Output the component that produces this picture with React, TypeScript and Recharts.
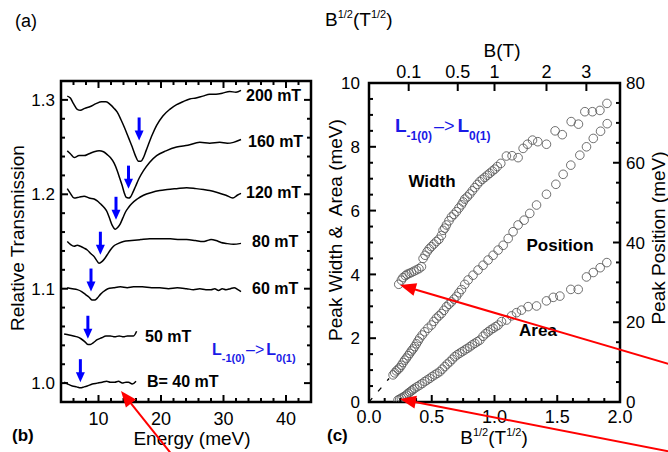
import React from 'react';
import { ComposedChart, Line, Scatter, XAxis, YAxis, ReferenceArea } from 'recharts';

const FONT = '"Liberation Sans", Arial, Helvetica, sans-serif';

// ---- panel (b): spectra, [energy (meV), relative transmission]
const curve200 = [[5.0,1.304],[5.5,1.302],[6.0,1.296],[6.6,1.290],[7.1,1.289],[7.8,1.291],[8.7,1.293],[9.6,1.296],[10.5,1.298],[11.2,1.298],[11.9,1.295],[12.5,1.291],[13.0,1.287],[13.6,1.279],[14.2,1.270],[14.8,1.260],[15.4,1.250],[15.9,1.241],[16.4,1.235],[16.8,1.235],[17.2,1.239],[17.6,1.246],[18.0,1.253],[18.6,1.263],[19.3,1.273],[20.3,1.283],[21.4,1.290],[22.5,1.295],[23.5,1.298],[24.6,1.301],[25.6,1.302],[26.7,1.304],[27.8,1.306],[28.8,1.306],[29.8,1.307],[31.0,1.309],[32.0,1.308],[32.8,1.310]];
const curve160 = [[5.0,1.246],[5.5,1.243],[6.1,1.239],[6.9,1.241],[7.7,1.241],[8.5,1.243],[9.3,1.245],[10.1,1.246],[10.8,1.245],[11.4,1.242],[11.9,1.239],[12.5,1.233],[13.0,1.225],[13.4,1.217],[13.8,1.209],[14.1,1.202],[14.4,1.197],[14.8,1.196],[15.1,1.197],[15.5,1.202],[15.9,1.208],[16.5,1.217],[17.2,1.225],[18.2,1.234],[19.3,1.241],[20.8,1.246],[22.5,1.250],[24.3,1.252],[26.2,1.255],[27.8,1.254],[29.4,1.255],[30.6,1.254],[31.6,1.255],[32.8,1.258]];
const curve120 = [[5.0,1.206],[5.5,1.201],[6.1,1.196],[6.9,1.197],[7.7,1.198],[8.5,1.196],[9.3,1.195],[9.8,1.193],[10.3,1.190],[10.9,1.186],[11.4,1.181],[11.8,1.174],[12.2,1.167],[12.7,1.163],[13.1,1.165],[13.5,1.169],[13.9,1.175],[14.3,1.181],[14.8,1.186],[15.3,1.190],[16.2,1.195],[17.2,1.199],[18.5,1.202],[19.8,1.204],[21.0,1.205],[22.5,1.206],[24.1,1.207],[25.6,1.206],[26.8,1.205],[27.8,1.204],[29.0,1.202],[30.4,1.199],[31.5,1.196],[32.2,1.199],[32.8,1.201]];
const curve80 = [[5.0,1.150],[5.5,1.147],[6.1,1.145],[6.6,1.146],[7.1,1.145],[7.7,1.143],[8.2,1.141],[8.8,1.137],[9.3,1.134],[9.7,1.130],[10.1,1.127],[10.6,1.129],[11.0,1.132],[11.4,1.136],[11.9,1.141],[12.4,1.145],[13.2,1.148],[14.0,1.150],[15.3,1.151],[16.7,1.152],[18.2,1.153],[19.8,1.153],[21.5,1.153],[23.0,1.152],[24.1,1.152],[25.5,1.151],[26.7,1.150],[27.4,1.151],[28.0,1.152],[28.8,1.151],[29.6,1.149],[30.4,1.148],[31.6,1.147],[32.8,1.148]];
const curve60 = [[5.0,1.101],[5.8,1.100],[6.6,1.099],[7.3,1.097],[7.9,1.094],[8.5,1.091],[9.0,1.088],[9.4,1.088],[9.8,1.090],[10.3,1.094],[10.8,1.097],[11.5,1.100],[12.4,1.101],[13.5,1.102],[14.6,1.101],[15.6,1.102],[17.0,1.102],[18.5,1.101],[19.8,1.101],[21.2,1.100],[22.6,1.101],[24.1,1.100],[25.2,1.099],[26.2,1.100],[27.2,1.099],[28.0,1.099],[28.6,1.100],[29.2,1.098],[29.8,1.100],[30.4,1.099],[31.1,1.100],[31.7,1.101],[32.3,1.099],[32.8,1.097]];
const curve50 = [[4.5,1.052],[5.3,1.051],[6.0,1.050],[6.6,1.049],[7.2,1.047],[7.8,1.044],[8.3,1.041],[8.7,1.041],[9.2,1.043],[9.8,1.046],[10.5,1.048],[11.2,1.050],[11.9,1.050],[12.6,1.049],[13.3,1.050],[14.0,1.049],[14.6,1.050],[15.2,1.050],[15.6,1.050],[16.1,1.055]];
const curve40 = [[4.5,1.001],[5.1,0.999],[5.8,0.997],[6.5,0.996],[7.1,0.995],[7.7,0.996],[8.2,0.997],[9.0,0.999],[9.8,1.000],[10.6,1.001],[11.3,1.002],[11.9,1.001],[12.6,1.001],[13.2,1.002],[13.8,1.000],[14.4,1.001],[14.8,1.001],[15.4,0.999],[16.0,1.002]];

const fieldLabels = ['200 mT', '160 mT', '120 mT', '80 mT', '60 mT', '50 mT', 'B= 40 mT'];
const arrowEnergy = [16.5, 14.8, 12.8, 10.3, 8.8, 8.3, 7.1];
const arrowTip = [1.257, 1.206, 1.173, 1.136, 1.097, 1.047, 1.001];

const bTicksX = [4, 6, 8, 10, 12, 14, 16, 18, 20, 22, 24, 26, 28, 30, 32, 34, 36, 38, 40, 42, 44];
const bTicksY = [0.98, 1.0, 1.02, 1.04, 1.06, 1.08, 1.1, 1.12, 1.14, 1.16, 1.18, 1.2, 1.22, 1.24, 1.26, 1.28, 1.3, 1.32];

// ---- panel (c): [B^1/2 (T^1/2), value]
const widthPts = [[0.237,3.69],[0.258,3.82],[0.271,3.90],[0.290,3.96],[0.303,4.00],[0.320,4.03],[0.338,4.06],[0.358,4.10],[0.378,4.14],[0.398,4.18],[0.418,4.24],[0.431,4.50],[0.447,4.60],[0.463,4.71],[0.480,4.80],[0.497,4.87],[0.517,4.95],[0.537,5.03],[0.557,5.10],[0.577,5.22],[0.590,5.38],[0.604,5.45],[0.617,5.55],[0.637,5.68],[0.657,5.80],[0.677,5.88],[0.697,5.97],[0.717,6.08],[0.737,6.18],[0.750,6.27],[0.763,6.36],[0.783,6.43],[0.803,6.52],[0.823,6.62],[0.843,6.72],[0.863,6.82],[0.883,6.91],[0.903,6.98],[0.923,7.04],[0.943,7.11],[0.962,7.17],[0.983,7.24],[1.002,7.30],[1.022,7.38],[1.050,7.48],[1.095,7.71],[1.140,7.72],[1.188,7.66],[1.228,7.95],[1.263,8.08],[1.303,8.21],[1.345,8.16],[1.414,8.08],[1.483,8.50],[1.540,8.38],[1.611,8.79],[1.669,8.71],[1.720,9.10],[1.780,9.10],[1.840,9.14],[1.896,9.36]];
const positionPts = [[0.192,6.8],[0.205,7.3],[0.218,7.8],[0.232,8.2],[0.245,8.6],[0.258,9.2],[0.272,9.9],[0.285,10.5],[0.298,11.0],[0.311,11.6],[0.325,12.2],[0.338,12.8],[0.351,13.3],[0.364,13.9],[0.378,14.6],[0.391,15.3],[0.404,16.0],[0.424,16.8],[0.444,17.6],[0.470,18.5],[0.497,19.3],[0.517,20.2],[0.537,21.0],[0.557,21.6],[0.577,22.2],[0.597,23.0],[0.617,23.9],[0.637,24.5],[0.657,25.1],[0.677,25.8],[0.697,26.5],[0.717,27.4],[0.737,28.2],[0.763,29.5],[0.790,30.6],[0.829,31.8],[0.869,33.1],[0.909,34.3],[0.949,35.6],[0.989,36.8],[1.029,38.1],[1.069,39.3],[1.109,41.0],[1.148,42.7],[1.188,44.4],[1.236,45.6],[1.281,47.3],[1.335,49.4],[1.414,52.1],[1.489,54.6],[1.547,57.1],[1.608,59.4],[1.680,61.9],[1.733,64.0],[1.787,66.1],[1.845,67.9],[1.898,69.8]];
const areaPts = [[0.231,0.06],[0.245,0.09],[0.258,0.12],[0.272,0.15],[0.285,0.18],[0.298,0.22],[0.311,0.27],[0.325,0.31],[0.338,0.35],[0.351,0.39],[0.364,0.43],[0.384,0.48],[0.404,0.53],[0.424,0.58],[0.444,0.64],[0.464,0.69],[0.484,0.74],[0.504,0.80],[0.524,0.85],[0.544,0.90],[0.564,0.95],[0.584,1.03],[0.604,1.11],[0.624,1.19],[0.644,1.26],[0.664,1.34],[0.683,1.42],[0.703,1.48],[0.723,1.53],[0.743,1.58],[0.763,1.63],[0.783,1.68],[0.803,1.73],[0.823,1.79],[0.843,1.84],[0.863,1.89],[0.883,1.94],[0.909,2.06],[0.929,2.14],[0.949,2.20],[0.969,2.26],[0.989,2.31],[1.009,2.36],[1.029,2.41],[1.056,2.52],[1.096,2.57],[1.136,2.70],[1.175,2.80],[1.215,2.88],[1.268,2.99],[1.335,3.01],[1.414,3.17],[1.468,3.28],[1.521,3.32],[1.608,3.53],[1.667,3.53],[1.733,3.92],[1.787,4.06],[1.842,4.21],[1.895,4.37]];
const guidePts = [[0, 0], [0.16, 5.9]];

const cTicksX = [0, 0.125, 0.25, 0.375, 0.5, 0.625, 0.75, 0.875, 1, 1.125, 1.25, 1.375, 1.5, 1.625, 1.75, 1.875, 2];
const cTicksL = [0, 0.5, 1, 1.5, 2, 2.5, 3, 3.5, 4, 4.5, 5, 5.5, 6, 6.5, 7, 7.5, 8, 8.5, 9, 9.5, 10];
const cTicksR = [0, 5, 10, 15, 20, 25, 30, 35, 40, 45, 50, 55, 60, 65, 70, 75, 80];
const cTopB = [0.1, 0.5, 1, 2, 3];

const bPts = (arr: number[][]) => arr.map(([e, t]) => ({ e, t }));
const cPts = (arr: number[][]) => arr.map(([x, y]) => ({ x, y }));
const curves = [curve200, curve160, curve120, curve80, curve60, curve50, curve40];
const arrowData = arrowEnergy.map((e, i) => ({ e, t: arrowTip[i] }));

type Side = 'bottom' | 'top' | 'left' | 'right';
interface TickOpts {
  side: Side;
  isMajor: (v: number) => boolean;
  fmt: (v: number) => string;
  fontSize: number;
  offset: number;
  major: number;
  minor: number;
  mirror?: number;
}

const makeTick = (o: TickOpts) => (props: any) => {
  const { x, y, payload } = props;
  const v = payload.value;
  const maj = o.isMajor(v);
  const len = maj ? o.major : o.minor;
  const label = maj ? o.fmt(v) : '';
  const ls = { stroke: '#000', strokeWidth: 2 };
  const ts = { fontSize: o.fontSize, fontFamily: FONT, fill: '#000' };
  if (o.side === 'bottom') {
    return (
      <g>
        <line x1={x} y1={y} x2={x} y2={y - len} {...ls} />
        {o.mirror ? <line x1={x} y1={y - o.mirror} x2={x} y2={y - o.mirror + len} {...ls} /> : null}
        <text x={x} y={y + o.offset} textAnchor="middle" {...ts}>{label}</text>
      </g>
    );
  }
  if (o.side === 'top') {
    return (
      <g>
        <line x1={x} y1={y} x2={x} y2={y + len} {...ls} />
        <text x={x} y={y - o.offset} textAnchor="middle" {...ts}>{label}</text>
      </g>
    );
  }
  if (o.side === 'left') {
    return (
      <g>
        <line x1={x} y1={y} x2={x + len} y2={y} {...ls} />
        {o.mirror ? <line x1={x + o.mirror} y1={y} x2={x + o.mirror - len} y2={y} {...ls} /> : null}
        <text x={x - o.offset} y={y + o.fontSize * 0.36} textAnchor="end" {...ts}>{label}</text>
      </g>
    );
  }
  return (
    <g>
      <line x1={x} y1={y} x2={x - len} y2={y} {...ls} />
      <text x={x + o.offset} y={y + o.fontSize * 0.36} textAnchor="start" {...ts}>{label}</text>
    </g>
  );
};

const near = (v: number, step: number) => Math.abs(v / step - Math.round(v / step)) < 1e-6;

const BlueArrow = (props: any) => {
  const { cx, cy } = props;
  return (
    <g>
      <line x1={cx} y1={cy - 23} x2={cx} y2={cy - 8} stroke="#0000ff" strokeWidth={3} />
      <polygon points={`${cx - 4.5},${cy - 10} ${cx + 4.5},${cy - 10} ${cx},${cy}`} fill="#0000ff" />
    </g>
  );
};

const OpenCircle = (props: any) => (
  <circle cx={props.cx} cy={props.cy} r={4.3} fill="none" stroke="#555" strokeWidth={0.85} />
);

const RedArrow = ({ x1, y1, x2, y2 }: { x1: number; y1: number; x2: number; y2: number }) => {
  const dx = x2 - x1;
  const dy = y2 - y1;
  const l = Math.sqrt(dx * dx + dy * dy);
  const ux = dx / l;
  const uy = dy / l;
  const hl = 16;
  const hw = 6.5;
  const bx = x2 - ux * hl;
  const by = y2 - uy * hl;
  return (
    <g>
      <line x1={x1} y1={y1} x2={bx + ux * 2} y2={by + uy * 2} stroke="#ff0000" strokeWidth={2} />
      <polygon points={`${x2},${y2} ${bx - uy * hw},${by + ux * hw} ${bx + uy * hw},${by - ux * hw}`} fill="#ff0000" />
    </g>
  );
};

const Sup = ({ children }: { children: string }) => (
  <tspan fontSize={11} dy={-8}>{children}</tspan>
);

function PanelB() {
  return (
    <ComposedChart width={340} height={452} margin={{ top: 81, right: 29, left: 0, bottom: 0 }}>
      <XAxis
        type="number"
        dataKey="e"
        domain={[4, 44]}
        allowDataOverflow
        ticks={bTicksX}
        interval={0}
        height={50}
        tickSize={0}
        tickMargin={0}
        tickLine={false}
        axisLine={false}
        tick={makeTick({ side: 'bottom', isMajor: (v) => near(v, 10), fmt: (v) => String(v), fontSize: 18, offset: 23, major: 7, minor: 4, mirror: 321 })}
      />
      <YAxis
        type="number"
        dataKey="t"
        domain={[0.98, 1.32]}
        allowDataOverflow
        ticks={bTicksY}
        interval={0}
        width={61}
        tickSize={0}
        tickMargin={0}
        tickLine={false}
        axisLine={false}
        tick={makeTick({ side: 'left', isMajor: (v) => near(v, 0.1), fmt: (v) => v.toFixed(1), fontSize: 17, offset: 6, major: 7, minor: 4, mirror: 250 })}
      />
      <ReferenceArea x1={4} x2={44} y1={0.98} y2={1.32} fill="none" stroke="#000" strokeWidth={2.5} fillOpacity={0} />
      {curves.map((c, i) => (
        <Line
          key={fieldLabels[i]}
          data={bPts(c)}
          dataKey="t"
          type="monotone"
          stroke="#000"
          strokeWidth={1.5}
          dot={false}
          isAnimationActive={false}
        />
      ))}
      <Scatter data={arrowData} shape={BlueArrow} isAnimationActive={false} />
    </ComposedChart>
  );
}

function PanelC() {
  return (
    <ComposedChart width={348} height={452} margin={{ top: 0, right: 0, left: 0, bottom: 0 }}>
      <XAxis
        xAxisId="b"
        type="number"
        dataKey="x"
        domain={[0, 2]}
        allowDataOverflow
        ticks={cTicksX}
        interval={0}
        height={50}
        tickSize={0}
        tickMargin={0}
        tickLine={false}
        axisLine={false}
        tick={makeTick({ side: 'bottom', isMajor: (v) => near(v, 0.5), fmt: (v) => v.toFixed(1), fontSize: 18, offset: 21, major: 7, minor: 4 })}
      />
      <XAxis
        xAxisId="t"
        orientation="top"
        type="number"
        dataKey="x"
        domain={[0, 2]}
        allowDataOverflow
        ticks={cTopB.map((b) => Math.sqrt(b))}
        interval={0}
        height={83}
        tickSize={0}
        tickMargin={0}
        tickLine={false}
        axisLine={false}
        tick={makeTick({ side: 'top', isMajor: () => true, fmt: (v) => String(Math.round(v * v * 10) / 10), fontSize: 18, offset: 5, major: 8, minor: 8 })}
      />
      <YAxis
        yAxisId="l"
        type="number"
        dataKey="y"
        domain={[0, 10]}
        allowDataOverflow
        ticks={cTicksL}
        interval={0}
        width={49}
        tickSize={0}
        tickMargin={0}
        tickLine={false}
        axisLine={false}
        tick={makeTick({ side: 'left', isMajor: (v) => near(v, 2), fmt: (v) => String(v), fontSize: 17, offset: 9, major: 7, minor: 4 })}
      />
      <YAxis
        yAxisId="r"
        orientation="right"
        type="number"
        dataKey="y"
        domain={[0, 80]}
        allowDataOverflow
        ticks={cTicksR}
        interval={0}
        width={48}
        tickSize={0}
        tickMargin={0}
        tickLine={false}
        axisLine={false}
        tick={makeTick({ side: 'right', isMajor: (v) => near(v, 20), fmt: (v) => String(v), fontSize: 17, offset: 6, major: 7, minor: 4 })}
      />
      <ReferenceArea xAxisId="b" yAxisId="l" x1={0} x2={2} y1={0} y2={10} fill="none" fillOpacity={0} stroke="#000" strokeWidth={2.5} />
      <Line
        xAxisId="t"
        yAxisId="r"
        data={cPts(guidePts)}
        dataKey="y"
        stroke="#000"
        strokeWidth={1.3}
        strokeDasharray="5 9"
        dot={false}
        isAnimationActive={false}
      />
      <Scatter xAxisId="b" yAxisId="l" data={cPts(widthPts)} shape={OpenCircle} isAnimationActive={false} />
      <Scatter xAxisId="b" yAxisId="r" data={cPts(positionPts)} shape={OpenCircle} isAnimationActive={false} />
      <Scatter xAxisId="b" yAxisId="l" data={cPts(areaPts)} shape={OpenCircle} isAnimationActive={false} />
    </ComposedChart>
  );
}

const labelPos = [[246, 101], [248, 147], [246, 198], [252, 247], [252, 294], [145, 342], [147, 387]];

export default function App() {
  return (
    <div style={{ position: 'absolute', left: 0, top: 0, width: 668, height: 452, background: '#fff', overflow: 'hidden', fontFamily: FONT }}>
      <div style={{ position: 'absolute', left: 0, top: 0 }}>
        <PanelB />
      </div>
      <div style={{ position: 'absolute', left: 320, top: 0 }}>
        <PanelC />
      </div>
      <svg width={668} height={452} style={{ position: 'absolute', left: 0, top: 0, pointerEvents: 'none' }} fontFamily={FONT}>
        <text x={15} y={27} fontSize={18}>(a)</text>
        <text x={12} y={441} fontSize={17} fontWeight="bold">(b)</text>
        <text x={327} y={441} fontSize={17} fontWeight="bold">(c)</text>
        <text transform="translate(17,238) rotate(-90)" textAnchor="middle" dominantBaseline="central" fontSize={19}>Relative Transmission</text>
        <text x={192} y={445} textAnchor="middle" fontSize={19}>Energy (meV)</text>
        {fieldLabels.map((s, i) => (
          <text key={s} x={labelPos[i][0]} y={labelPos[i][1]} fontSize={16} fontWeight="bold">{s}</text>
        ))}
        <text x={212} y={355} fill="#1a1ae6">
          <tspan fontWeight="bold" fontSize={16}>L</tspan>
          <tspan fontWeight="bold" fontSize={11} dy={7}>-1(0)</tspan>
          <tspan fontSize={16} dy={-7} dx={1}>{'\u2013>'}</tspan>
          <tspan fontWeight="bold" fontSize={16} dx={2}>L</tspan>
          <tspan fontWeight="bold" fontSize={11} dy={7}>0(1)</tspan>
        </text>

        <text x={325} y={26} fontSize={19}>B<Sup>1/2</Sup><tspan dy={8}>(T</tspan><Sup>1/2</Sup><tspan dy={8}>)</tspan></text>
        <text x={502} y={57} textAnchor="middle" fontSize={19}>B(T)</text>
        <text x={494} y={444} textAnchor="middle" fontSize={19}>B<Sup>1/2</Sup><tspan dy={8}>(T</tspan><Sup>1/2</Sup><tspan dy={8}>)</tspan></text>
        <text transform="translate(335,230) rotate(-90)" textAnchor="middle" dominantBaseline="central" fontSize={19}>{'Peak Width &\u00a0 Area (meV)'}</text>
        <text transform="translate(658,238) rotate(-90)" textAnchor="middle" dominantBaseline="central" fontSize={19}>Peak Position (meV)</text>
        <text x={395} y={132} fill="#1a1ae6">
          <tspan fontWeight="bold" fontSize={19}>L</tspan>
          <tspan fontWeight="bold" fontSize={12} dy={8}>-1(0)</tspan>
          <tspan fontSize={18} dy={-8} dx={2}>{'\u2013>'}</tspan>
          <tspan fontWeight="bold" fontSize={19} dx={3}>L</tspan>
          <tspan fontWeight="bold" fontSize={12} dy={8}>0(1)</tspan>
        </text>
        <text x={432} y={187} textAnchor="middle" fontSize={17} fontWeight="bold">Width</text>
        <text x={560} y={251} textAnchor="middle" fontSize={17} fontWeight="bold">Position</text>
        <text x={538} y={336} textAnchor="middle" fontSize={17} fontWeight="bold">Area</text>

        <RedArrow x1={173} y1={456} x2={121} y2={391} />
        <RedArrow x1={672} y1={365} x2={400} y2={285} />
        <RedArrow x1={672} y1={452} x2={400} y2={399} />
      </svg>
    </div>
  );
}
